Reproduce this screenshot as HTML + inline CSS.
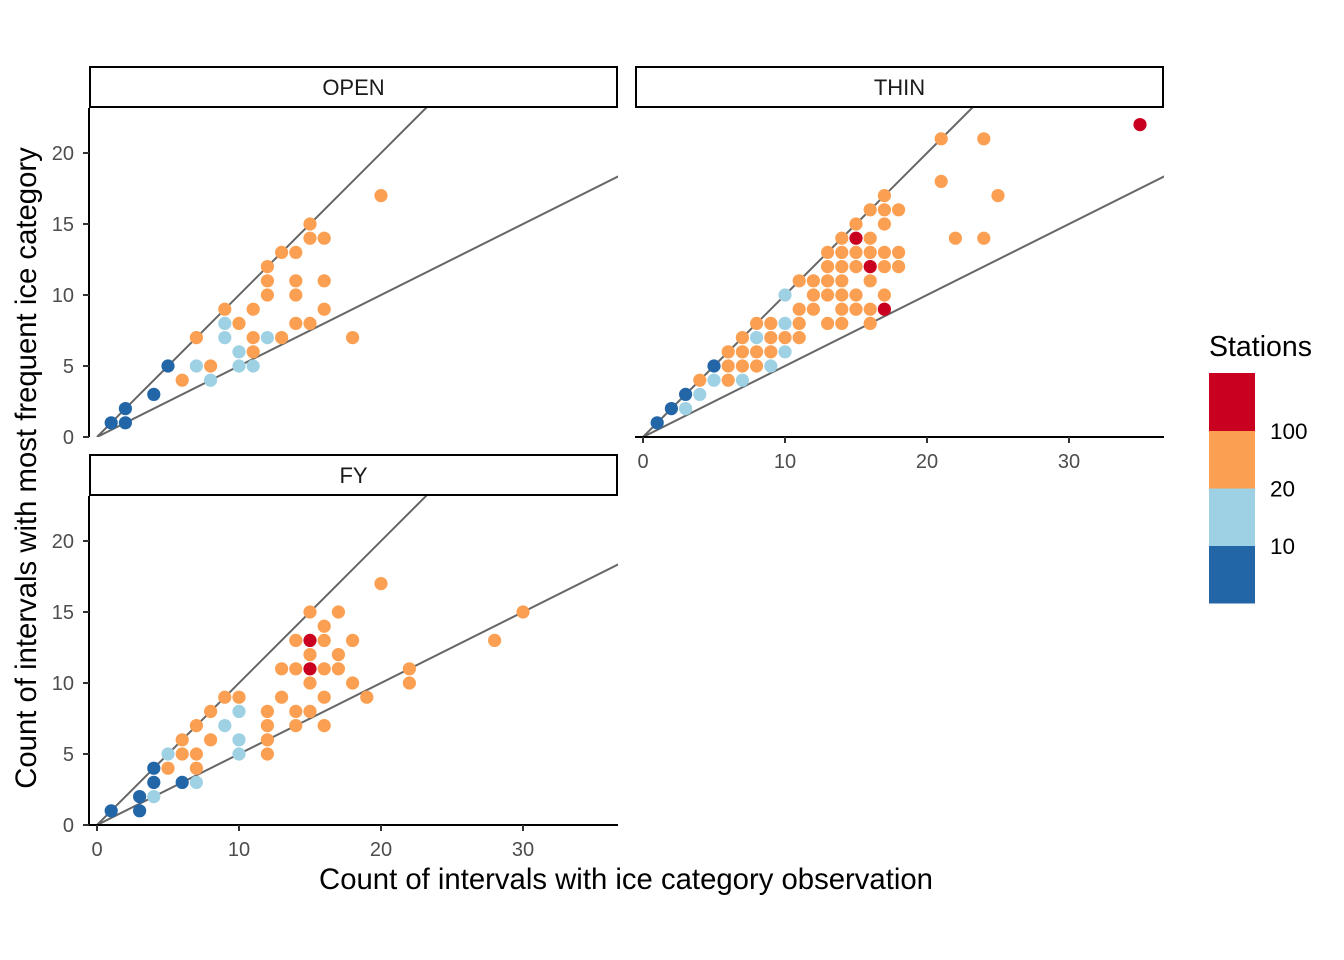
<!DOCTYPE html>
<html><head><meta charset="utf-8"><style>
body{margin:0;background:#fff}
svg{display:block;font-family:"Liberation Sans",Arial,sans-serif}
</style></head><body>
<svg id="chart" width="1344" height="960" xmlns="http://www.w3.org/2000/svg"></svg>
<script>
// Category codes: 0=<10, 1=10-20, 2=20-100, 3=>100 stations
const openX=[1,2,2,4,5,6,7,7,8,8,9,9,9,10,10,10,11,11,11,11,12,12,12,12,13,13,14,14,14,14,15,15,15,16,16,16,18,20];
const openY=[1,1,2,3,5,4,7,5,5,4,9,8,7,8,6,5,9,7,6,5,12,11,10,7,13,7,13,11,10,8,15,14,8,14,11,9,7,17];
const openC=[0,0,0,0,0,2,2,1,2,1,2,1,1,2,1,1,2,2,2,1,2,2,2,1,2,2,2,2,2,2,2,2,2,2,2,2,2,2];

const thinX=[1,2,3,3,4,4,5,6,7,5,6,7,8,9,6,7,8,9,10,7,8,9,10,11,8,9,10,11,13,14,16,11,12,14,15,16,17,10,12,13,14,15,17,11,12,13,14,16,13,14,15,16,17,18,13,14,15,16,17,18,14,15,16,15,17,16,17,18,17,21,21,24,25,22,24,35];
const thinY=[1,2,2,3,3,4,4,4,4,5,5,5,5,5,6,6,6,6,6,7,7,7,7,7,8,8,8,8,8,8,8,9,9,9,9,9,9,10,10,10,10,10,10,11,11,11,11,11,12,12,12,12,12,12,13,13,13,13,13,13,14,14,14,15,15,16,16,16,17,21,18,21,17,14,14,22];
const thinC=[0,0,1,0,1,2,1,2,1,0,2,2,2,1,2,2,2,2,1,2,1,2,2,2,2,2,1,2,2,2,2,2,2,2,2,2,3,1,2,2,2,2,2,2,2,2,2,2,2,2,2,3,2,2,2,2,2,2,2,2,2,3,2,2,2,2,2,2,2,2,2,2,2,2,2,3];

const fyX=[1,3,3,4,4,6,7,4,5,7,5,6,7,10,12,6,8,10,12,7,9,12,14,16,8,10,12,14,15,9,10,13,16,19,15,18,22,13,14,15,16,17,22,15,17,14,15,16,18,16,15,17,20,28,30];
const fyY=[1,1,2,2,3,3,3,4,4,4,5,5,5,5,5,6,6,6,6,7,7,7,7,7,8,8,8,8,8,9,9,9,9,9,10,10,10,11,11,11,11,11,11,12,12,13,13,13,13,14,15,15,17,13,15];
const fyC=[0,0,0,1,0,0,1,0,2,2,1,2,2,1,2,2,2,1,2,2,1,2,2,2,2,1,2,2,2,2,2,2,2,2,2,2,2,2,2,3,2,2,2,2,2,2,3,2,2,2,2,2,2,2,2];

const xTicks=[0,10,20,30];
const yTicks=[0,5,10,15,20];
const colors=["#2366A8","#9FD1E4","#FBA052","#CA0020"];
const legendLabels=["10","20","100"];

const NS="http://www.w3.org/2000/svg";
const svg=document.getElementById('chart');
function mk(t,a,p){const e=document.createElementNS(NS,t);for(const k in a)e.setAttribute(k,a[k]);(p||svg).appendChild(e);return e;}
const U=14.2;
function panel(name,px0,py0,xs,ys,cs,showX,showY){
  const L=px0, W=529, T=py0, H=329;
  const x0=L+8, y0=T+H;
  const sx=v=>x0+v*U, sy=v=>y0-v*U;
  const g=mk('g',{});
  
  
  const cp='clip'+name;
  const cl=mk('clipPath',{id:cp},g);mk('rect',{x:L,y:T,width:W,height:H},cl);
  const s=mk('rect',{x:L+1,y:T-41,width:W-2,height:40,fill:'#fff',stroke:'#000','stroke-width':2},g);
  
  
  const st=mk('text',{x:L+W/2,y:T-13,'font-size':22,'text-anchor':'middle',fill:'#1a1a1a'},g);st.textContent=name;
  
  
  const lg=mk('g',{'clip-path':'url(#'+cp+')'},g);
  [1,0.5].forEach(m=>{const ln=mk('line',{x1:sx(0),y1:sy(0),x2:sx(40),y2:sy(40*m),stroke:'#666','stroke-width':2},lg);
    
    });
  xs.forEach((v,i)=>{const c=mk('circle',{cx:sx(v),cy:sy(ys[i]),r:6.6,fill:colors[cs[i]]},lg);
    
    });
  if(showY){
    mk('line',{x1:L,y1:T,x2:L,y2:T+H,stroke:'#000','stroke-width':2},g);
    yTicks.forEach(v=>{mk('line',{x1:L-6,y1:sy(v),x2:L,y2:sy(v),stroke:'#333','stroke-width':2},g);
      const t=mk('text',{x:L-15,y:sy(v)+7,'font-size':20,'text-anchor':'end',fill:'#4d4d4d'},g);t.textContent=v;
      
      });
  }
  if(showX){
    mk('line',{x1:L,y1:y0,x2:L+W,y2:y0,stroke:'#000','stroke-width':2},g);
    xTicks.forEach(v=>{mk('line',{x1:sx(v),y1:y0,x2:sx(v),y2:y0+6,stroke:'#333','stroke-width':2},g);
      const t=mk('text',{x:sx(v),y:y0+31,'font-size':20,'text-anchor':'middle',fill:'#4d4d4d'},g);t.textContent=v;
      
      });
  }
}
panel('OPEN',89,108,openX,openY,openC,false,true);
panel('THIN',635,108,thinX,thinY,thinC,true,false);
panel('FY',89,496,fyX,fyY,fyC,true,true);

const xt=mk('text',{x:626,y:889,'font-size':29.3,'text-anchor':'middle',fill:'#000'});xt.textContent='Count of intervals with ice category observation';


const yt=mk('text',{x:0,y:0,'font-size':29.3,'text-anchor':'middle',fill:'#000',transform:'translate(36,468) rotate(-90)'});yt.textContent='Count of intervals with most frequent ice category';



const lt=mk('text',{x:1209,y:356,'font-size':28.5,fill:'#000'});lt.textContent='Stations';


for(let i=0;i<4;i++){const r=mk('rect',{x:1209,y:603-(i+1)*57.5,width:46,height:58,fill:colors[i]});
  
  }
legendLabels.forEach((s,i)=>{const t=mk('text',{x:1270,y:554-i*57.5,'font-size':22.5,fill:'#000'});t.textContent=s;
  
  });
</script>
</body></html>
